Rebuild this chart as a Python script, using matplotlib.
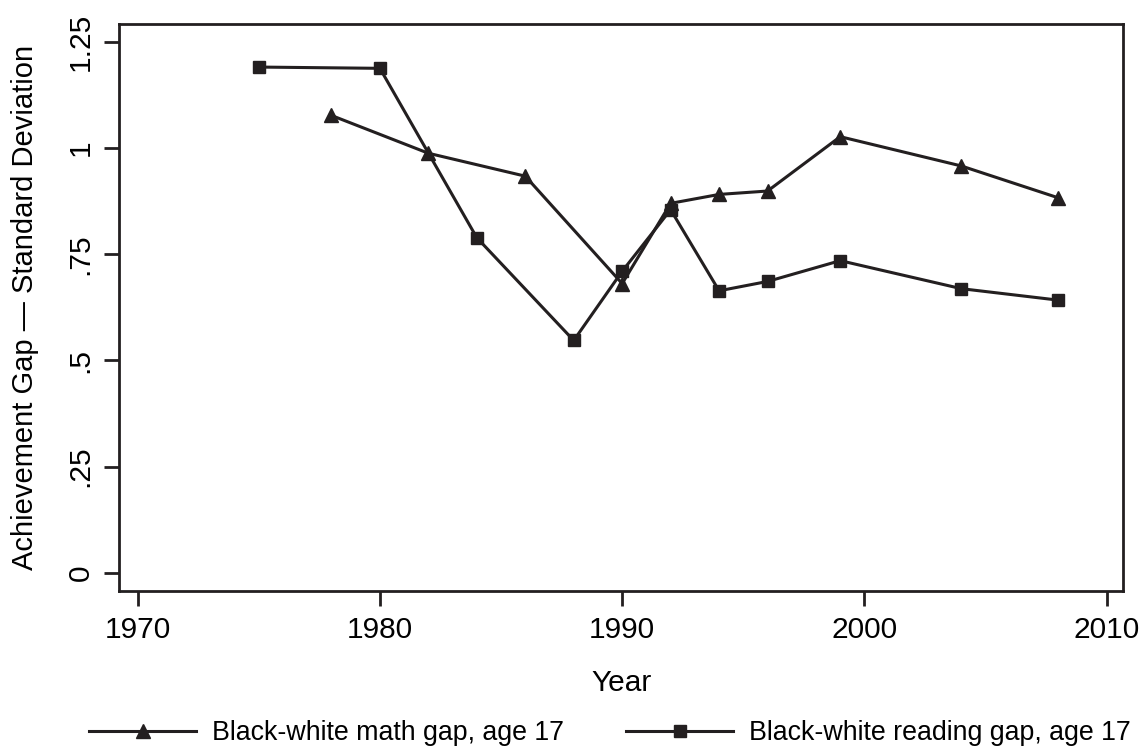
import matplotlib
matplotlib.use('Agg')
import matplotlib.pyplot as plt

plt.rcParams['font.family'] = ['Liberation Sans', 'DejaVu Sans']

# NAEP long-term trend, age 17
math_years = [1978, 1982, 1986, 1990, 1992, 1994, 1996, 1999, 2004, 2008]
math_gap = [1.077, 0.988, 0.934, 0.681, 0.870, 0.891, 0.899, 1.027, 0.958, 0.883]

read_years = [1975, 1980, 1984, 1988, 1990, 1992, 1994, 1996, 1999, 2004, 2008]
read_gap = [1.191, 1.188, 0.789, 0.547, 0.710, 0.855, 0.664, 0.686, 0.735, 0.669, 0.642]

x_ticks = [1970, 1980, 1990, 2000, 2010]
y_ticks = [0, 0.25, 0.5, 0.75, 1, 1.25]
y_labels = ['0', '.25', '.5', '.75', '1', '1.25']

ink = '#231f20'
fs = 21.5

fig = plt.figure(figsize=(11.41, 7.49), dpi=100)
ax = fig.add_axes([0.1047, 0.2113, 0.8795, 0.7567])

ax.plot(math_years, math_gap, color=ink, lw=2.2, marker='^', ms=10.5,
        label='Black-white math gap, age 17')
ax.plot(read_years, read_gap, color=ink, lw=2.2, marker='s', ms=8,
        label='Black-white reading gap, age 17')

ax.set_xlim(1969.25, 2010.67)
ax.set_ylim(-0.0425, 1.2925)
ax.set_xticks(x_ticks)
ax.set_yticks(y_ticks)
ax.set_yticklabels(y_labels, rotation=90, va='center')

for s in ax.spines.values():
    s.set_linewidth(2)
    s.set_color(ink)
ax.tick_params(length=11, width=2, color=ink, labelsize=fs, pad=7)

ax.set_xlabel('Year', fontsize=fs, labelpad=18)
ax.set_ylabel('Achievement Gap \u2014 Standard Deviation', fontsize=21, labelpad=20)

fig.legend(loc='center', bbox_to_anchor=(610 / 1141, 1 - 733 / 749), ncol=2,
           frameon=False, fontsize=19.3, handlelength=4.0, handletextpad=0.6,
           columnspacing=2.3)

fig.savefig('out.png', dpi=100)
